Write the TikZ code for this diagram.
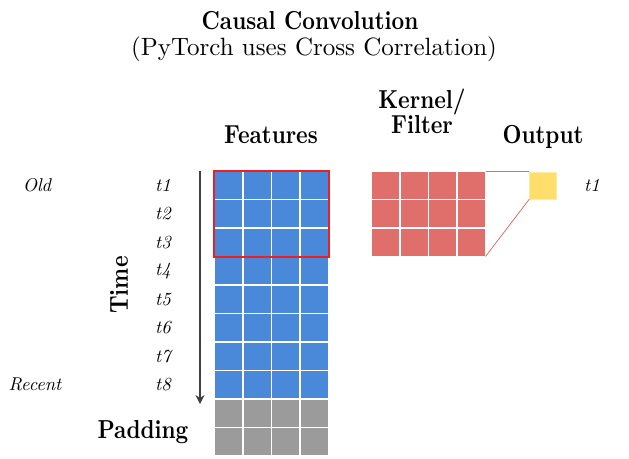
\documentclass[tikz,border=0pt]{standalone}
\usetikzlibrary{positioning,arrows.meta}
\definecolor{featblue}{HTML}{4A89DA}
\definecolor{kernred}{HTML}{E06E6A}
\definecolor{outyellow}{HTML}{FFDE6C}
\definecolor{padgray}{HTML}{9B9B9B}
\definecolor{boxred}{HTML}{F01E1E}
\tikzset{
  cell/.style={draw=white, line width=1.6pt},
  head/.style={font=\bfseries, xscale=2.2, yscale=2.6},
  tlabel/.style={font=\itshape, scale=1.85},
}
\begin{document}
\begin{tikzpicture}[x=1pt, y=-1pt]
  \useasboundingbox (0,0) rectangle (629,458);
  % title
  \node[head, anchor=base] (title) at (310,29) {Causal Convolution};
  \node[scale=2.5, anchor=base] (subtitle) at (314,55) {(PyTorch uses Cross Correlation)};
  % headers
  \node[head, anchor=base] (features) at (271,143) {Features};
  \node[head, anchor=base] (kernelhead) at (422,108) {Kernel/};
  \node[head, anchor=base] (filterhead) at (422,133) {Filter};
  \node[head, anchor=base] (outputhead) at (543,143) {Output};
  % features and padding
  \foreach \r in {0,...,7}
    \foreach \c in {0,...,3}
      \filldraw[cell, fill=featblue] (214.5+28.5*\c, 171+28.5*\r) rectangle ++(28.5,28.5);
  \foreach \r in {8,9}
    \foreach \c in {0,...,3}
      \filldraw[cell, fill=padgray] (214.5+28.5*\c, 171+28.5*\r) rectangle ++(28.5,28.5);
  \draw[boxred, line width=2pt] (214,171) rectangle (329,257);
  % kernel
  \foreach \r in {0,...,2}
    \foreach \c in {0,...,3}
      \filldraw[cell, fill=kernred] (371.5+28.5*\c, 171+28.5*\r) rectangle ++(28.5,28.5);
  \coordinate (kernel-tr) at (485.5,171);
  \coordinate (kernel-br) at (485.5,256.5);
  % output
  \node[draw=outyellow!60, fill=outyellow, minimum size=27pt, inner sep=0pt] (out) at (543,185.5) {};
  \draw[kernred, line width=1pt] (kernel-tr) -- (kernel-tr -| out.west);
  \draw[kernred, line width=0.8pt] (kernel-br) -- (out.south west);
  \node[tlabel] (outt1) at (592,185) {t1};
  % time axis
  \coordinate (tstart) at (200,171);
  \coordinate (tend) at (200,404);
  \draw[-{Stealth[length=9pt, width=9pt, inset=3pt]}, line width=1.2pt, black!75] (tstart) -- (tend);
  \foreach \i in {1,...,8}
    \node[tlabel] (t\i) at (163,185.25+28.5*\i-28.5) {t\i};
  \node[tlabel] (old) at (37,185) {Old};
  \node[tlabel] (recent) at (35,384) {Recent};
  \node[rotate=90, head] (time) at (119,285) {Time};
  \node[head, anchor=base] (padding) at (143,438) {Padding};
\end{tikzpicture}
\end{document}
